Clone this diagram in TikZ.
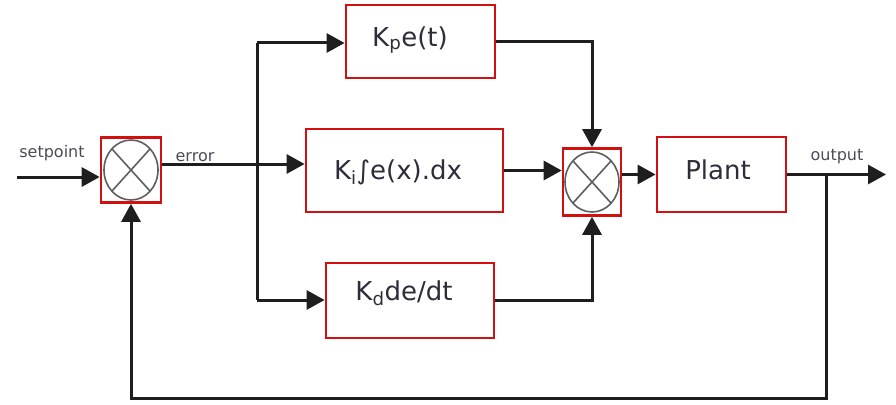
\documentclass[tikz,border=0pt]{standalone}
\usepackage{fontspec}
\setmainfont{DejaVu Sans}
\usetikzlibrary{arrows.meta}
\definecolor{boxred}{RGB}{210,16,16}
\definecolor{txt}{RGB}{45,45,60}
\definecolor{wire}{RGB}{30,30,30}
\definecolor{cross}{RGB}{95,95,95}
\begin{document}
\begin{tikzpicture}[x=1pt,y=-1pt,
  blk/.style={draw=boxred,line width=2.8pt,rectangle,inner sep=0pt},
  blktxt/.style={text=txt,inner sep=0pt,font=\fontsize{26}{30}\selectfont},
  sumj/.style={draw=boxred,line width=2.6pt,rectangle,inner sep=0pt,
    path picture={
      \draw[cross,line width=1.6pt] (path picture bounding box.center) ellipse [x radius=27pt, y radius=30pt];
      \draw[cross,line width=1.6pt] ([shift={(-19,-21)}]path picture bounding box.center) -- ([shift={(19,21)}]path picture bounding box.center);
      \draw[cross,line width=1.6pt] ([shift={(-19,21)}]path picture bounding box.center) -- ([shift={(19,-21)}]path picture bounding box.center);
    }},
  wirel/.style={draw=wire,line width=3pt},
  arr/.style={wirel,-{Triangle[length=18pt,width=19pt]}},
  lbl/.style={text=txt!85,font=\fontsize{16}{18}\selectfont}]
\useasboundingbox (0,0) rectangle (896,404);
\fill[white] (0,0) rectangle (896,404);
% junctions
\node[sumj,minimum width=60pt,minimum height=65pt] (s1) at (131,170) {};
\node[sumj,minimum width=58pt,minimum height=67pt] (s2) at (592,182) {};
% blocks
\node[blk,minimum width=149pt,minimum height=73pt] (kp) at (420.5,41.5) {};
\node[blk,minimum width=197pt,minimum height=83pt] (ki) at (404.5,170.5) {};
\node[blk,minimum width=168pt,minimum height=75pt] (kd) at (410,300.5) {};
\node[blk,minimum width=129pt,minimum height=75pt] (plant) at (721.5,174.5) {};
\node[blktxt] (kpt) at (410,40) {K\textsubscript{p}e(t)};
\node[blktxt] (kit) at (398,172) {K\textsubscript{i}∫e(x).dx};
\node[blktxt] (kdt) at (404,293.5) {K\textsubscript{d}de/dt};
\node[blktxt] (plt) at (718,170) {Plant};
% labels
\node[lbl] (lsp) at (52,153) {setpoint};
\node[lbl] (ler) at (195,157) {error};
\node[lbl] (lout) at (837,157) {output};
% coordinates
\coordinate (in) at (17,177);
\coordinate (sp) at (257,164);
\coordinate (st) at (257,43);
\coordinate (sb) at (257,300);
\coordinate (out) at (886,176);
\coordinate (fb) at (826,176);
\coordinate (fbb) at (826,398);
% connectors
\draw[arr] (in) -- (in -| s1.west);
\draw[wirel] (s1.east |- sp) -- (sp);
\draw[wirel] (st) -- (sb);
\draw[arr] (st) -- (st -| kp.west);
\draw[arr] (sp) -- (sp -| ki.west);
\draw[arr] (sb) -- (sb -| kd.west);
\draw[arr] (kp.east) -| (s2.north);
\draw[arr] (ki.east) -- (ki.east -| s2.west);
\draw[arr] (kd.east) -| (s2.south);
\draw[arr] (s2.east |- plant.west) -- (plant.west);
\draw[arr] (plant.east) -- (plant.east -| out);
\draw[arr] (fb) -- (fbb) -| (s1.south);
\end{tikzpicture}
\end{document}
